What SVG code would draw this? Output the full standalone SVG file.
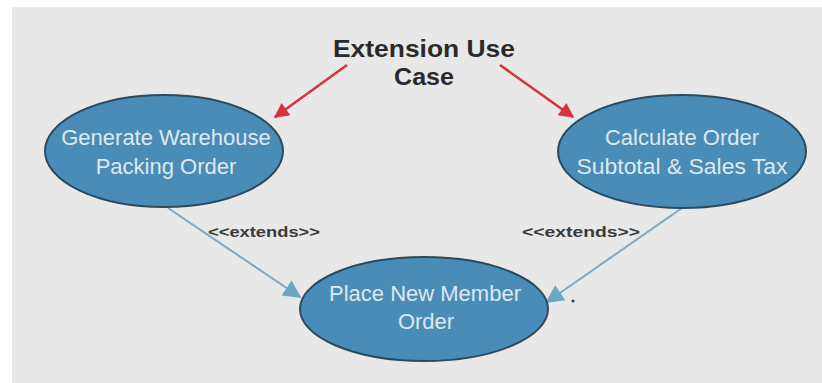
<svg xmlns="http://www.w3.org/2000/svg" width="822" height="383" viewBox="0 0 822 383">
  <style>
    .uc { fill: #4a8cb8; stroke: #2b4a5c; stroke-width: 2; }
    .uc-text { font-family: "Liberation Sans", Arial, sans-serif; font-size: 22px; fill: #dce9f0; text-anchor: middle; }
    .title { font-family: "Liberation Sans", Arial, sans-serif; font-size: 24px; font-weight: bold; fill: #2a2a2a; text-anchor: middle; }
    .stereo { font-family: "Liberation Sans", Arial, sans-serif; font-size: 15px; font-weight: bold; fill: #3a3a3a; }
    .pointer { stroke: #d8323c; stroke-width: 2.5; fill: none; }
    .extend { stroke: #7fa8c2; stroke-width: 2; fill: none; }
  </style>
  <defs>
    <marker id="red-head" viewBox="0 0 10 10" refX="9" refY="5" markerWidth="7" markerHeight="6" markerUnits="strokeWidth" orient="auto">
      <path d="M0,0 L10,5 L0,10 z" fill="#d8323c"/>
    </marker>
    <marker id="blue-head" viewBox="0 0 10 10" refX="9" refY="5" markerWidth="11" markerHeight="9" markerUnits="strokeWidth" orient="auto">
      <path d="M0,0 L10,5 L0,10 z" fill="#6ea4c4"/>
    </marker>
  </defs>

  <!-- page -->
  <rect x="0" y="0" width="822" height="383" fill="#ffffff"/>
  <rect x="12" y="7" width="810" height="376" fill="#e8e8e8"/>

  <!-- heading -->
  <g id="title">
    <text class="title" x="424" y="57" textLength="182" lengthAdjust="spacingAndGlyphs">Extension Use</text>
    <text class="title" x="424" y="85" textLength="60" lengthAdjust="spacingAndGlyphs">Case</text>
  </g>

  <g id="connectors">
    <line class="pointer" x1="347" y1="65" x2="275" y2="117" marker-end="url(#red-head)"/>
    <line class="pointer" x1="500" y1="65" x2="573" y2="117" marker-end="url(#red-head)"/>
    <line class="extend" x1="168" y1="208" x2="300" y2="297" marker-end="url(#blue-head)"/>
    <line class="extend" x1="682" y1="208" x2="547" y2="302" marker-end="url(#blue-head)"/>
    <text class="stereo" x="208" y="237" textLength="112" lengthAdjust="spacingAndGlyphs">&lt;&lt;extends&gt;&gt;</text>
    <text class="stereo" x="522" y="237" textLength="118" lengthAdjust="spacingAndGlyphs">&lt;&lt;extends&gt;&gt;</text>
  </g>

  <g id="generate-warehouse-packing-order">
    <ellipse class="uc" cx="164" cy="151" rx="119" ry="56"/>
    <text class="uc-text" x="166" y="145">Generate Warehouse</text>
    <text class="uc-text" x="166" y="174">Packing Order</text>
  </g>

  <g id="calculate-order-subtotal">
    <ellipse class="uc" cx="682" cy="151.5" rx="124" ry="56.5"/>
    <text class="uc-text" x="682" y="145">Calculate Order</text>
    <text class="uc-text" x="682" y="174" textLength="211" lengthAdjust="spacingAndGlyphs">Subtotal &amp; Sales Tax</text>
  </g>

  <g id="place-new-member-order">
    <ellipse class="uc" cx="424" cy="309" rx="124" ry="52"/>
    <text class="uc-text" x="425" y="301">Place New Member</text>
    <text class="uc-text" x="426" y="329">Order</text>
  </g>

  <circle cx="573" cy="301" r="1.5" fill="#333a44"/>
</svg>
